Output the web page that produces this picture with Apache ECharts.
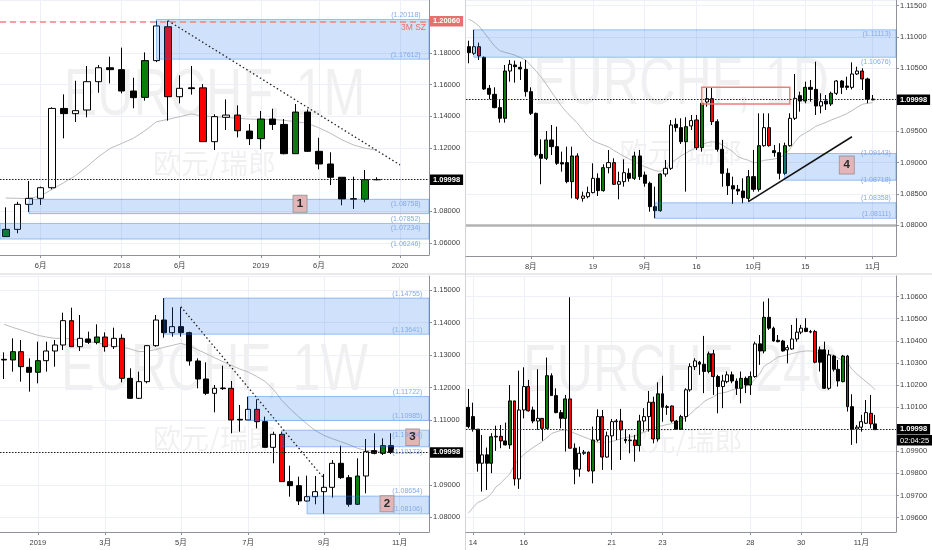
<!DOCTYPE html>
<html><head><meta charset="utf-8">
<script src="https://cdn.jsdelivr.net/npm/echarts@6/dist/echarts.min.js"></script>
<style>html,body{margin:0;padding:0;background:#fff}#c{width:932px;height:550px}</style>
</head><body><div id="c"></div><script>
// ===== Panel 1: EURCHF 1M =====
const monthCats = ['2017-03','2017-04','2017-05','2017-06','2017-07','2017-08','2017-09','2017-10','2017-11','2017-12',
'2018-01','2018-02','2018-03','2018-04','2018-05','2018-06','2018-07','2018-08','2018-09','2018-10','2018-11','2018-12',
'2019-01','2019-02','2019-03','2019-04','2019-05','2019-06','2019-07','2019-08','2019-09','2019-10','2019-11','2019-12',
'2020-01','2020-02','2020-03'];
const monthTicks = {'2017-06':'6月','2018-01':'2018','2018-06':'6月','2019-01':'2019','2019-06':'6月','2020-01':'2020'};
const monthType = 'gwwwwbwwwbbbgwrwbrwwrbgbbgbbbbbgb';
const monthOpen = [1.0640,1.0686,1.0844,1.0882,1.0949,1.1450,1.1417,1.1440,1.1619,1.1707,1.1695,1.1560,1.1520,1.1752,1.1966,1.1524,1.1580,1.1580,1.1240,1.1394,1.1408,1.1307,1.1259,1.1383,1.1349,1.1164,1.1427,1.1179,1.1099,1.1015,1.0880,1.0876,1.1000];
const monthClose = [1.0686,1.0844,1.0882,1.0949,1.1450,1.1417,1.1436,1.1619,1.1707,1.1695,1.1560,1.1518,1.1752,1.1971,1.1524,1.1577,1.1575,1.1240,1.1398,1.1408,1.1309,1.1259,1.1383,1.1349,1.1164,1.1427,1.1179,1.1099,1.1015,1.0878,1.0876,1.1000,1.09998];
const monthLow = [1.0638,1.0661,1.0796,1.0840,1.0939,1.1261,1.1364,1.1394,1.1549,1.1608,1.1545,1.1451,1.1499,1.1743,1.1373,1.1482,1.1537,1.1240,1.1187,1.1314,1.1267,1.1219,1.1192,1.1314,1.1160,1.1162,1.1175,1.1065,1.0966,1.0838,1.0815,1.0857,1.0996];
const monthHigh = [1.0825,1.0860,1.0992,1.0956,1.1457,1.1539,1.1625,1.1718,1.1724,1.1777,1.1834,1.1644,1.1804,1.2004,1.2004,1.1659,1.1718,1.1604,1.1413,1.1507,1.1469,1.1352,1.1434,1.1448,1.1383,1.1478,1.1444,1.1265,1.1173,1.1015,1.1019,1.1061,1.1015];
const monthMA = [1.0884,1.0882,1.0880,1.0897,1.0939,1.0981,1.1025,1.1082,1.1145,1.1198,1.1229,1.1261,1.1309,1.1366,1.1381,1.1398,1.1415,1.1402,1.1398,1.1394,1.1387,1.1383,1.1381,1.1381,1.1375,1.1366,1.1356,1.1328,1.1293,1.1251,1.1219,1.1198,1.1187];
// zones: [start category (null = left edge), top, bottom, top-label shift, bottom-label shift]
const monthZones = [['2018-04',1.20118,1.17612,-4.5,-4.5],['2017-05',1.08758,1.07852,5,5],[null,1.07234,1.06246,5,5]];
const monthTrend = [['2018-05',1.2004],['2020-01',1.1093]];
const monthLevel = 1.20060;

// ===== Panel 2: EURCHF 1D =====
const dayCats = ['07-16','07-17','07-18','07-19','07-22','07-23','07-24','07-25','07-26','07-29','07-30','07-31',
'08-01','08-02','08-05','08-06','08-07','08-08','08-09','08-12','08-13','08-14','08-15','08-16','08-19','08-20','08-21','08-22','08-23','08-26','08-27','08-28','08-29','08-30',
'09-02','09-03','09-04','09-05','09-06','09-09','09-10','09-11','09-12','09-13','09-16','09-17','09-18','09-19','09-20','09-23','09-24','09-25','09-26','09-27','09-30',
'10-01','10-02','10-03','10-04','10-07','10-08','10-09','10-10','10-11','10-14','10-15','10-16','10-17','10-18','10-21','10-22','10-23','10-24','10-25','10-28','10-29','10-30','10-31',
'11-01','11-04','11-05','11-06','11-07'];
const dayTicks = {'08-01':'8月','08-19':'19','09-02':'9月','09-16':'16','10-01':'10月','10-15':'15','11-01':'11月'};
const dayType = 'bwrbbbbgwb'+'bbbbbgbbbb'+'grwwwbgwrw'+'wbgbbbbgww'+'bbgwrgwrbb'+'bbbbgbgwrb'+'bgwwbgbbwb'+'gwbbwwrbb';
const dayOpen = [1.10845,1.10739,1.10845,1.10675,1.10181,1.10086,1.09874,1.09704,1.10457,1.10553,
1.10516,1.10484,1.10128,1.09783,1.09130,1.09067,1.09359,1.09252,1.08998,1.08998,
1.08695,1.09104,1.08430,1.08456,1.08520,1.08748,1.08552,1.08918,1.08998,1.08653,
1.08695,1.08828,1.08748,1.09104,1.08801,1.08669,1.08297,1.08233,1.08817,1.08907,
1.09608,1.09555,1.09332,1.09582,1.09677,1.09236,1.09964,1.10017,1.09651,1.09210,
1.08828,1.08631,1.08573,1.08546,1.08430,1.08775,1.08573,1.09268,1.09555,1.09189,
1.09157,1.08828,1.09268,1.09704,1.10065,1.09980,1.10197,1.10165,1.09900,1.09980,
1.09932,1.10102,1.10298,1.10218,1.10197,1.10410,1.10457,1.10330,1.10011];
const dayClose = [1.10749,1.10845,1.10696,1.10171,1.10086,1.09874,1.09704,1.10457,1.10564,1.10526,
1.10489,1.10128,1.09783,1.09120,1.09067,1.09359,1.09252,1.08987,1.08976,1.08695,
1.09104,1.08430,1.08467,1.08520,1.08748,1.08552,1.08918,1.08998,1.08653,1.08695,
1.08838,1.08748,1.09104,1.08775,1.08669,1.08297,1.08233,1.08817,1.08907,1.09597,
1.09555,1.09332,1.09571,1.09667,1.09236,1.09943,1.10017,1.09651,1.09210,1.08828,
1.08631,1.08578,1.08546,1.08440,1.08775,1.08573,1.09268,1.09555,1.09268,1.09157,
1.08828,1.09268,1.09704,1.10022,1.09980,1.10197,1.10165,1.09900,1.09969,1.09932,
1.10102,1.10298,1.10197,1.10197,1.10410,1.10457,1.10330,1.10011,1.09998];
const dayLow = [1.10580,1.10712,1.10633,1.10155,1.10006,1.09863,1.09635,1.09635,1.10288,1.10272,
1.10314,1.10049,1.09757,1.09093,1.08653,1.09040,1.09120,1.08961,1.08854,1.08669,
1.08430,1.08403,1.08377,1.08430,1.08509,1.08467,1.08536,1.08828,1.08642,1.08414,
1.08615,1.08695,1.08722,1.08722,1.08615,1.08217,1.08111,1.08217,1.08775,1.08881,
1.09491,1.09295,1.08536,1.09518,1.09199,1.09173,1.09889,1.09597,1.09173,1.08615,
1.08483,1.08339,1.08483,1.08350,1.08377,1.08536,1.08536,1.09252,1.09252,1.09093,
1.08732,1.08801,1.09252,1.09677,1.09810,1.09943,1.09969,1.09757,1.09783,1.09836,
1.09900,1.10075,1.10091,1.10155,1.10165,1.10394,1.10155,1.09943,1.09990];
const dayHigh = [1.10940,1.11113,1.10909,1.10690,1.10235,1.10197,1.09996,1.10553,1.10633,1.10622,
1.10606,1.10633,1.10197,1.09794,1.09369,1.09502,1.09597,1.09571,1.09173,1.09252,
1.09252,1.09146,1.08536,1.08615,1.08987,1.08828,1.08971,1.09199,1.09067,1.08854,
1.09051,1.08907,1.09173,1.09199,1.08854,1.08695,1.08615,1.08828,1.09040,1.09677,
1.09704,1.09704,1.09720,1.09757,1.09757,1.09996,1.10197,1.10197,1.09688,1.09359,
1.08907,1.08775,1.08642,1.08748,1.08881,1.09199,1.09783,1.09783,1.09783,1.09279,
1.09306,1.09316,1.09783,1.10410,1.10128,1.10288,1.10314,1.10606,1.10102,1.10075,
1.10128,1.10314,1.10314,1.10367,1.10595,1.10526,1.10500,1.10351,1.10075];
const dayMA = [1.11285,1.11238,1.11174,1.11068,1.10962,1.10855,1.10781,1.10755,1.10733,1.10707,
1.10670,1.10633,1.10548,1.10457,1.10362,1.10250,1.10123,1.10006,1.09889,1.09794,
1.09709,1.09629,1.09523,1.09422,1.09348,1.09311,1.09279,1.09247,1.09194,1.09146,
1.09099,1.09056,1.09014,1.08971,1.08934,1.08902,1.08870,1.08860,1.08897,1.08982,
1.09045,1.09104,1.09152,1.09199,1.09242,1.09284,1.09316,1.09332,1.09316,1.09279,
1.09226,1.09173,1.09093,1.09061,1.09035,1.08998,1.09003,1.09035,1.09045,1.09056,
1.09077,1.09125,1.09210,1.09332,1.09422,1.09470,1.09518,1.09576,1.09608,1.09640,
1.09677,1.09709,1.09741,1.09778,1.09826,1.09879,1.09927,1.09943,1.09953];
const dayZones = [['07-17',1.11113,1.10676,4.5,4.5],['10-09',1.09143,1.08718,0,0],['09-04',1.08358,1.08111,-4.6,-4.6]];
const dayBox = [['09-17',1.10197],['10-10',1.09932]];
const dayTrend = [['09-30',1.08377],['10-28',1.09410]];
const dayLevel = 1.07852;

// ===== Panel 3: EURCHF 1W =====
const weekCats = ['2018-12-10','2018-12-17','2018-12-24','2018-12-31','2019-01-07','2019-01-14','2019-01-21','2019-01-28','2019-02-04','2019-02-11','2019-02-18','2019-02-25','2019-03-04','2019-03-11','2019-03-18','2019-03-25','2019-04-01','2019-04-08','2019-04-15','2019-04-22','2019-04-29','2019-05-06','2019-05-13','2019-05-20','2019-05-27','2019-06-03','2019-06-10','2019-06-17','2019-06-24','2019-07-01','2019-07-08','2019-07-15','2019-07-22','2019-07-29','2019-08-05','2019-08-12','2019-08-19','2019-08-26','2019-09-02','2019-09-09','2019-09-16','2019-09-23','2019-09-30','2019-10-07','2019-10-14','2019-10-21','2019-10-28','2019-11-04','2019-11-11','2019-11-18','2019-11-25'];
const weekTicks = {'2019-01-07':'2019','2019-03-04':'3月','2019-05-06':'5月','2019-07-01':'7月','2019-09-02':'9月','2019-11-04':'11月'};
const weekType = 'bgrbgwwwrw'+'bgrwrbwwwb'+'wbbbbwbrbw'+'rbwrbbwwww'+'bbgwbgb';
const weekOpen = [1.12868,1.12848,1.13104,1.12622,1.12468,1.12827,1.13125,1.13310,1.14060,1.13258,
1.13495,1.13392,1.13556,1.13258,1.13515,1.12283,1.11667,1.12180,1.13289,1.14080,
1.13690,1.13875,1.13690,1.12817,1.12262,1.11820,1.11985,1.11975,1.11019,1.10999,
1.11327,1.10947,1.10156,1.10557,1.09099,1.08975,1.08503,1.08636,1.08790,1.08924,
1.09664,1.09222,1.08400,1.09273,1.10054,1.09971,1.10208];
const weekClose = [1.12848,1.13104,1.12642,1.12468,1.12827,1.13125,1.13310,1.14060,1.13258,1.13515,
1.13392,1.13556,1.13258,1.13515,1.12283,1.11667,1.12180,1.13289,1.14080,1.13690,
1.13875,1.13690,1.12817,1.12262,1.11820,1.11975,1.11965,1.10999,1.10999,1.11327,
1.10947,1.10156,1.10557,1.09099,1.08975,1.08503,1.08636,1.08790,1.08924,1.09664,
1.09222,1.08400,1.09273,1.10022,1.09971,1.10208,1.09998];
const weekLow = [1.12262,1.12488,1.12180,1.11872,1.12129,1.12488,1.12642,1.13156,1.13258,1.13125,
1.13341,1.13330,1.13104,1.13187,1.12159,1.11646,1.11646,1.12129,1.13258,1.13536,
1.13567,1.13567,1.12673,1.11975,1.11769,1.11235,1.11923,1.10588,1.10639,1.10999,
1.10742,1.10146,1.09664,1.09099,1.08636,1.08379,1.08482,1.08400,1.08106,1.08605,
1.09181,1.08328,1.08379,1.08739,1.09941,1.09920,1.09951];
const weekHigh = [1.13084,1.13515,1.13464,1.12899,1.13413,1.13413,1.13464,1.14306,1.14460,1.14234,
1.13721,1.13947,1.13700,1.13844,1.13639,1.12591,1.12488,1.13310,1.14234,1.14755,
1.14471,1.14471,1.13721,1.12899,1.12776,1.12077,1.12673,1.12201,1.11461,1.11718,
1.11636,1.11101,1.10639,1.10639,1.09591,1.09252,1.09283,1.09273,1.09335,1.09766,
1.10208,1.09304,1.09817,1.10413,1.10588,1.10434,1.10588];
const weekMA = [1.13947,1.13854,1.13772,1.13690,1.13608,1.13556,1.13515,1.13515,1.13495,1.13454,
1.13413,1.13382,1.13330,1.13289,1.13248,1.13187,1.13104,1.13115,1.13166,1.13238,
1.13300,1.13361,1.13289,1.13166,1.13043,1.12920,1.12796,1.12683,1.12570,1.12478,
1.12344,1.12190,1.11944,1.11605,1.11338,1.11101,1.10875,1.10670,1.10526,1.10423,
1.10331,1.10239,1.10126,1.10064,1.10043,1.10033,1.10023];
const weekZones = [['2019-04-22',1.14755,1.13641,-4.2,-4.3],['2019-07-01',1.11722,1.10985,-4.5,-4.5],['2019-07-29',1.10684,1.10173,5,5],['2019-08-19',1.08654,1.08106,-4.8,-4.5]];
const weekTrend = [['2019-05-06',1.14491],['2019-09-02',1.09201]];

// ===== Panel 4: EURCHF 240 =====
const h4Count = 93;
const h4Ticks = {b1:'14',b12:'16',b31:'21',b42:'23',b61:'28',b72:'30',b85:'11月'};
const h4Type = 'bbbwbgbrbg'+'rwwrbwrgbb'+'bgrbwwrgwr'+'wwwrbwrgww'+'rgbwrbgwww'+'bbgrbwwbbg'+'bgwbgbbbbw'+'wwwbwrbbwb'+'bgrbwwwrb';
const h4Open = [1.10099,1.10057,1.10000,1.09846,1.09884,1.09846,1.09968,1.09968,1.09947,1.09929,
1.10128,1.09775,1.10087,1.10193,1.10087,1.10037,1.10049,1.10004,1.10242,1.10152,
1.10075,1.10049,1.10137,1.09914,1.09819,1.09891,1.09896,1.09811,1.09951,1.10057,
1.09874,1.09970,1.10034,1.10037,1.09954,1.09948,1.09951,1.09926,1.10037,1.10057,
1.10122,1.09956,1.10160,1.10098,1.10105,1.10037,1.10000,1.10057,1.10178,1.10283,
1.10303,1.10294,1.10261,1.10341,1.10238,1.10193,1.10215,1.10246,1.10218,1.10185,
1.10230,1.10200,1.10238,1.10386,1.10354,1.10506,1.10457,1.10402,1.10399,1.10359,
1.10363,1.10408,1.10439,1.10457,1.10439,1.10442,1.10359,1.10359,1.10185,1.10331,
1.10271,1.10215,1.10331,1.10102,1.10001,1.10009,1.10027,1.10072,1.10024];
const h4Close = [1.10012,1.10000,1.09846,1.09884,1.09846,1.09966,1.09965,1.09947,1.09929,1.10128,
1.09775,1.10087,1.10193,1.10083,1.10037,1.10049,1.10004,1.10242,1.10152,1.10075,
1.10049,1.10137,1.09914,1.09819,1.09891,1.09896,1.09811,1.09951,1.10057,1.09874,
1.09970,1.10034,1.10037,1.09997,1.09948,1.09951,1.09926,1.10037,1.10057,1.10122,
1.09956,1.10160,1.10099,1.10102,1.10037,1.10000,1.10057,1.10178,1.10283,1.10309,
1.10294,1.10261,1.10341,1.10238,1.10193,1.10218,1.10246,1.10218,1.10185,1.10230,
1.10200,1.10238,1.10386,1.10354,1.10506,1.10457,1.10399,1.10396,1.10354,1.10369,
1.10408,1.10439,1.10457,1.10442,1.10442,1.10303,1.10303,1.10185,1.10336,1.10271,
1.10218,1.10331,1.10102,1.10000,1.10009,1.10034,1.10075,1.10024,1.09998];
const h4Low = [1.10004,1.09989,1.09808,1.09718,1.09725,1.09801,1.09902,1.09914,1.09926,1.09911,
1.09745,1.09730,1.10049,1.10080,1.10027,1.09997,1.09948,1.10001,1.10152,1.10072,
1.10004,1.09899,1.09914,1.09751,1.09785,1.09884,1.09808,1.09755,1.09944,1.09816,
1.09871,1.09816,1.09951,1.09861,1.09936,1.09891,1.09853,1.09899,1.09989,1.09989,
1.09936,1.09944,1.10034,1.10065,1.10030,1.09997,1.09997,1.10034,1.10170,1.10268,
1.10246,1.10163,1.10253,1.10155,1.10072,1.10095,1.10208,1.10208,1.10155,1.10117,
1.10163,1.10155,1.10233,1.10291,1.10343,1.10449,1.10396,1.10393,1.10351,1.10298,
1.10359,1.10396,1.10430,1.10439,1.10434,1.10298,1.10261,1.10182,1.10178,1.10261,
1.10193,1.10212,1.10080,1.09929,1.09936,1.09989,1.10024,1.10004,1.09998];
const h4High = [1.10182,1.10120,1.10000,1.09974,1.09917,1.09982,1.10016,1.10019,1.10030,1.10200,
1.10128,1.10265,1.10280,1.10223,1.10102,1.10271,1.10049,1.10324,1.10253,1.10185,
1.10087,1.10155,1.10597,1.09936,1.09921,1.09906,1.09899,1.10012,1.10090,1.10087,
1.09989,1.10046,1.10046,1.10092,1.09997,1.09977,1.09974,1.10065,1.10095,1.10173,
1.10147,1.10212,1.10242,1.10110,1.10107,1.10042,1.10065,1.10185,1.10298,1.10321,
1.10309,1.10422,1.10351,1.10359,1.10246,1.10246,1.10261,1.10261,1.10230,1.10261,
1.10238,1.10261,1.10396,1.10426,1.10577,1.10592,1.10464,1.10426,1.10404,1.10381,
1.10472,1.10502,1.10472,1.10502,1.10449,1.10449,1.10374,1.10396,1.10359,1.10336,
1.10313,1.10336,1.10336,1.10158,1.10019,1.10065,1.10132,1.10155,1.10065];
const h4MA = [1.09620,1.09645,1.09668,1.09677,1.09690,1.09709,1.09739,1.09755,1.09778,1.09798,
1.09841,1.09865,1.09885,1.09902,1.09917,1.09930,1.09944,1.09962,1.09980,1.09988,
1.09994,1.09997,1.09989,1.09982,1.09973,1.09965,1.09957,1.09950,1.09939,1.09938,
1.09941,1.09944,1.09950,1.09957,1.09962,1.09965,1.09970,1.09979,1.09986,1.09995,
1.10006,1.10013,1.10016,1.10021,1.10025,1.10031,1.10040,1.10052,1.10068,1.10089,
1.10105,1.10125,1.10137,1.10146,1.10161,1.10164,1.10169,1.10178,1.10182,1.10187,
1.10193,1.10202,1.10226,1.10250,1.10286,1.10298,1.10312,1.10327,1.10331,1.10336,
1.10342,1.10347,1.10351,1.10354,1.10354,1.10351,1.10344,1.10341,1.10338,1.10335,
1.10321,1.10312,1.10300,1.10271,1.10250,1.10233,1.10215,1.10199,1.10178];
const h4Cats = Array.from({length: h4Count}, (_, i) => 'b' + i);

const lastPrice = 1.09998;
const countdown = '02:04:25';

// ===== styling / helpers =====
const FONT = '"Liberation Sans", Arial, "Noto Sans CJK SC", sans-serif';
const TYPE_COLOR = {w:'#ffffff', b:'#000000', g:'#0a7d0a', r:'#ff0000'};
const ZONE = {color:'rgba(33,118,234,0.21)', borderColor:'rgba(33,118,234,0.42)', borderWidth:1};
const GRIDC = '#edf0f6', AXC = '#8f9299', TXT = '#3c3c3c';
const NOLINE = {color:'rgba(0,0,0,0)', width:0.01};

function candles(types, o, c, l, h) {
  return o.map((v, i) => {
    const col = TYPE_COLOR[types[i]];
    return {value:[o[i], c[i], l[i], h[i]], itemStyle:{color:col, color0:col, borderColor:'#000', borderColor0:'#000', borderWidth:1}};
  });
}
function xAx(gi, cats, ticks) {
  const show = (i, v) => ticks[v] !== undefined;
  return {type:'category', gridIndex:gi, data:cats, boundaryGap:true,
    axisLine:{show:true, lineStyle:{color:AXC}},
    axisTick:{show:true, alignWithLabel:true, interval:show, length:3, lineStyle:{color:AXC}},
    axisLabel:{interval:show, formatter:v => ticks[v] || '', color:TXT, fontSize:7.5, margin:7, fontFamily:FONT},
    splitLine:{show:true, interval:show, alignWithLabel:true, lineStyle:{color:GRIDC}}};
}
function yAx(gi, min, max, split, step, hide) {
  return {type:'value', gridIndex:gi, position:'right', min, max, splitNumber:split,
    axisLine:{show:true, lineStyle:{color:AXC}},
    axisTick:{show:true, length:3, lineStyle:{color:AXC}},
    axisLabel:{showMinLabel:false, showMaxLabel:false, color:TXT, fontSize:7.5, margin:4, fontFamily:FONT,
      formatter:v => {
        const k = v / step;
        if (Math.abs(k - Math.round(k)) > 1e-6) return '';
        if (hide.some(h => Math.abs(h - v) < 1e-7)) return '';
        return v.toFixed(5);
      }},
    splitLine:{show:true, lineStyle:{color:GRIDC}}};
}
function zoneAreas(zones) {
  return zones.map(z => [z[0] ? {xAxis:z[0], yAxis:z[1]} : {yAxis:z[1]}, {yAxis:z[2]}]);
}
// zone price labels anchored at the last category, right-aligned
function zoneLabel(cat, v, dy) {
  return {coord:[cat, v], symbol:'circle', symbolSize:1, itemStyle:{color:'rgba(0,0,0,0)'},
    label:{show:true, position:'left', distance:2, offset:[0, dy], formatter:'(' + v.toFixed(5) + ')',
      color:'#86a9ea', fontSize:7, fontFamily:FONT}};
}
function zoneLabels(zones, lastCat) {
  const out = [];
  zones.forEach(z => { out.push(zoneLabel(lastCat, z[1], z[3])); out.push(zoneLabel(lastCat, z[2], z[4])); });
  return out;
}
function priceLine() {
  return {yAxis:lastPrice, lineStyle:{type:[1.5,1.5], color:'#222', width:1},
    label:{show:true, position:'end', distance:1, formatter:lastPrice.toFixed(5), backgroundColor:'#000',
      color:'#fff', fontWeight:'bold', fontSize:7.5, fontFamily:FONT, padding:[2,3,1,3]}};
}
function boxMark(cat, val, txt, off, size) {
  return {coord:[cat, val], symbol:'rect', symbolSize:size, symbolOffset:[off, 0],
    itemStyle:{color:'#e4b4b9', borderColor:'#9a9a9a', borderWidth:1},
    label:{show:true, position:'inside', formatter:txt, color:'#2a2a2a', fontSize:11.5, fontWeight:'bold', fontFamily:FONT}};
}
function maSeries(xi, data) {
  return {type:'line', xAxisIndex:xi, yAxisIndex:xi, data, symbol:'none', silent:true, z:1,
    lineStyle:{color:'#bcbcbc', width:1}};
}

const grids = [
  {left:0, top:0, width:429, height:255},
  {left:466, top:0, width:430, height:256},
  {left:0, top:276, width:429, height:256},
  {left:466, top:276, width:430, height:256}
];

const series = [
  // Panel 1
  {type:'candlestick', xAxisIndex:0, yAxisIndex:0, barWidth:7, silent:true,
    data:candles(monthType, monthOpen, monthClose, monthLow, monthHigh),
    markArea:{silent:true, z:3, label:{show:false}, itemStyle:ZONE, data:zoneAreas(monthZones)},
    markLine:{silent:true, symbol:['none','none'], data:[
      {yAxis:monthLevel, lineStyle:{type:[6,4], color:'#ee8585', width:1.5},
        label:{show:true, position:'end', distance:1, formatter:monthLevel.toFixed(5), backgroundColor:'#e86f6f',
          color:'#fff', fontWeight:'bold', fontSize:7.5, fontFamily:FONT, padding:[2,3,1,3]}},
      {yAxis:monthLevel, lineStyle:NOLINE, label:{show:true, position:'insideEndBottom', formatter:'3M SZ',
        color:'#ec6b6b', fontSize:8.5, fontFamily:FONT, distance:[3, 2]}},
      priceLine(),
      [{coord:monthTrend[0], lineStyle:{type:[1.5,2.5], color:'#222', width:1.3}, label:{show:false}}, {coord:monthTrend[1]}]
    ]},
    markPoint:{silent:true, data:[...zoneLabels(monthZones, monthCats[monthCats.length - 1]), boxMark('2019-04', 1.0848, '1', 4.4, [14,17])]}
  },
  maSeries(0, monthMA),
  // Panel 2
  {type:'candlestick', xAxisIndex:1, yAxisIndex:1, barWidth:3.6, silent:true,
    data:candles(dayType, dayOpen, dayClose, dayLow, dayHigh),
    markArea:{silent:true, z:3, label:{show:false}, itemStyle:ZONE, data:[
      ...zoneAreas(dayZones),
      [{xAxis:dayBox[0][0], yAxis:dayBox[0][1], itemStyle:{color:'rgba(0,0,0,0)', borderColor:'#ef7b7b', borderWidth:1.5}},
       {xAxis:dayBox[1][0], yAxis:dayBox[1][1]}]
    ]},
    markLine:{silent:true, symbol:['none','none'], data:[
      {yAxis:dayLevel, lineStyle:{type:'solid', color:'#b3b3b3', width:2.5}, label:{show:false}},
      priceLine(),
      [{coord:dayTrend[0], lineStyle:{type:'solid', color:'#111', width:1.5}, label:{show:false}}, {coord:dayTrend[1]}]
    ]},
    markPoint:{silent:true, data:[...zoneLabels(dayZones, dayCats[dayCats.length - 1]), boxMark('10-25', 1.08961, '4', 0, [15,18])]}
  },
  maSeries(1, dayMA),
  // Panel 3
  {type:'candlestick', xAxisIndex:2, yAxisIndex:2, barWidth:5.4, silent:true,
    data:candles(weekType, weekOpen, weekClose, weekLow, weekHigh),
    markArea:{silent:true, z:3, label:{show:false}, itemStyle:ZONE, data:zoneAreas(weekZones)},
    markLine:{silent:true, symbol:['none','none'], data:[
      priceLine(),
      [{coord:weekTrend[0], lineStyle:{type:[1.5,2.5], color:'#222', width:1.3}, label:{show:false}}, {coord:weekTrend[1]}]
    ]},
    markPoint:{silent:true, data:[...zoneLabels(weekZones, weekCats[weekCats.length - 1]),
      boxMark('2019-10-21', 1.08419, '2', 4.3, [14,16]), boxMark('2019-11-11', 1.10465, '3', 4.6, [13.5,16.5])]}
  },
  maSeries(2, weekMA),
  // Panel 4
  {type:'candlestick', xAxisIndex:3, yAxisIndex:3, barWidth:3.4, silent:true,
    data:candles(h4Type, h4Open, h4Close, h4Low, h4High),
    markLine:{silent:true, symbol:['none','none'], data:[
      priceLine(),
      {yAxis:lastPrice, lineStyle:NOLINE, label:{show:true, position:'end', distance:1, formatter:'{e| }\n{t|' + countdown + '}',
        rich:{e:{height:22, fontSize:7.5}, t:{backgroundColor:'#000', color:'#fff', fontSize:7.5, fontFamily:FONT, padding:[2,3,1,3]}}}}
    ]}
  },
  maSeries(3, h4MA)
];

function wm(cx, cy, txt) {
  return {type:'text', x:cx, y:cy, scaleX:0.75, silent:true, z:-1,
    style:{text:txt, x:0, y:0, fill:'rgba(0,0,0,0.06)', font:'67px "Liberation Sans", Arial, sans-serif', textAlign:'center', textVerticalAlign:'middle'}};
}
function wm2(cx, cy) {
  return {type:'text', x:cx, y:cy, silent:true, z:-1,
    style:{text:'欧元/瑞郎', x:0, y:0, fill:'rgba(0,0,0,0.06)', font:'28px "Noto Sans CJK SC", sans-serif', textAlign:'center', textVerticalAlign:'middle'}};
}

const option = {
  animation:false,
  backgroundColor:'#ffffff',
  grid:grids,
  xAxis:[xAx(0, monthCats, monthTicks), xAx(1, dayCats, dayTicks), xAx(2, weekCats, weekTicks), xAx(3, h4Cats, h4Ticks)],
  yAxis:[yAx(0, 1.0524, 1.2135, 8, 0.02, [1.1, 1.2]), yAx(1, 1.07511, 1.11588, 8, 0.005, [1.1]),
         yAx(2, 1.07547, 1.15436, 8, 0.01, [1.1]), yAx(3, 1.09535, 1.10693, 11, 0.001, [1.1])],
  graphic:[
    wm(214.5, 97, 'EURCHF, 1M'), wm(681, 86, 'EURCHF, 1D'), wm(214.5, 372, 'EURCHF, 1W'), wm(681, 373, 'EURCHF, 240'),
    wm2(214.5, 163), wm2(681, 152), wm2(214.5, 438), wm2(681, 440),
    {type:'line', silent:true, shape:{x1:465.5, y1:0, x2:465.5, y2:550}, style:{stroke:'#d4d4d4', lineWidth:1}},
    {type:'line', silent:true, shape:{x1:0, y1:274, x2:932, y2:274}, style:{stroke:'#d4d4d4', lineWidth:1}}
  ],
  series
};
const chart = echarts.init(document.getElementById('c'), null, {renderer:'canvas'});
chart.setOption(option);
</script></body></html>
